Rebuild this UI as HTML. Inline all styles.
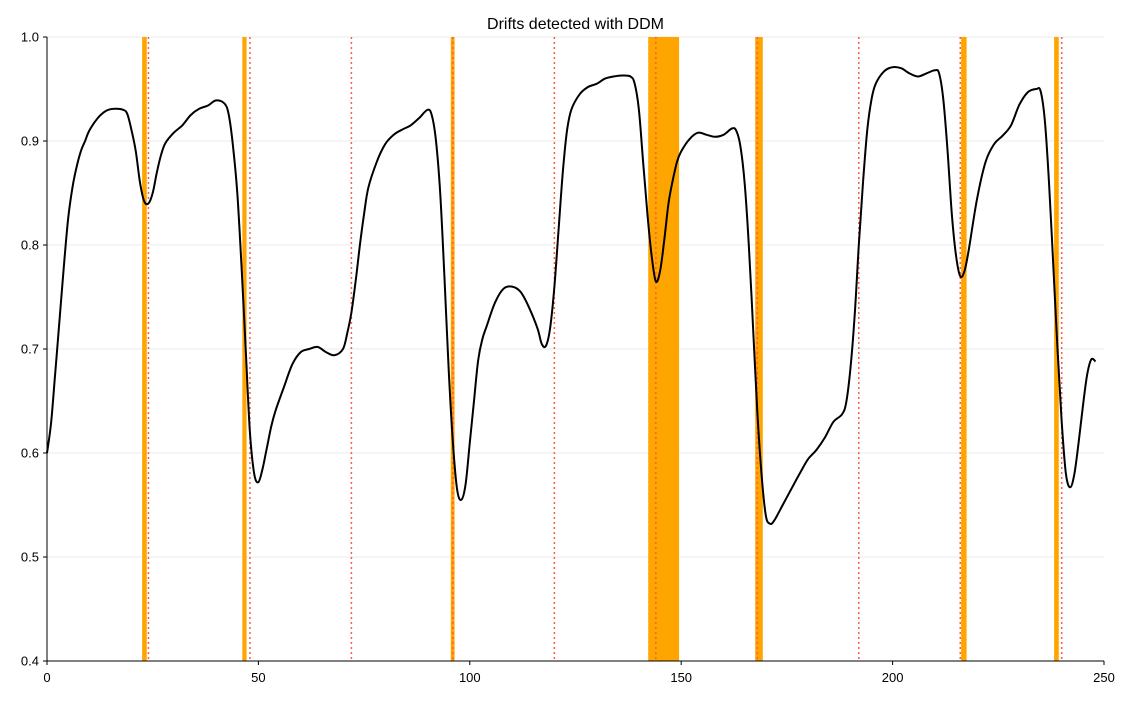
<!DOCTYPE html>
<html><head><meta charset="utf-8"><style>
body{margin:0;background:#fff;font-family:"Liberation Sans","DejaVu Sans",sans-serif}
</style></head><body>
<svg id="chart" width="1132" height="700" xmlns="http://www.w3.org/2000/svg" font-family="Liberation Sans, DejaVu Sans, sans-serif"></svg>
<script>
const xs=[0,1,2,3,4,5,6,7,8,9,10,12,14,16,18,19,20,21,22,23,24,25,26,27,28,30,32,34,36,38,40,42,43,44,45,46,47,48,49,50,51,52,53,54,56,58,60,62,64,66,68,70,71,72,73,74,75,76,78,80,82,84,86,88,90,91,92,93,94,95,96,97,98,99,100,101,102,103,104,106,108,110,112,114,116,117,118,119,120,121,122,123,124,126,128,130,132,134,136,138,139,140,141,142,143,144,145,146,147,148,149,150,152,154,156,158,160,162,163,164,165,166,167,168,169,170,171,172,174,176,178,180,182,184,186,188,189,190,191,192,193,194,195,196,198,200,202,204,206,208,210,211,212,213,214,215,216,217,218,220,222,224,226,228,230,232,234,235,236,237,238,239,240,241,242,243,244,245,246,247,248];
const ys=[0.60,0.63,0.68,0.73,0.78,0.825,0.855,0.875,0.89,0.90,0.91,0.922,0.929,0.931,0.93,0.926,0.91,0.89,0.86,0.842,0.84,0.85,0.87,0.887,0.898,0.908,0.915,0.925,0.931,0.934,0.939,0.936,0.925,0.895,0.85,0.78,0.70,0.62,0.58,0.572,0.585,0.605,0.625,0.64,0.663,0.685,0.697,0.700,0.702,0.697,0.694,0.70,0.715,0.735,0.765,0.80,0.83,0.855,0.88,0.897,0.906,0.911,0.915,0.922,0.93,0.925,0.90,0.85,0.77,0.68,0.61,0.565,0.555,0.57,0.61,0.65,0.69,0.71,0.722,0.745,0.758,0.76,0.755,0.74,0.72,0.705,0.703,0.72,0.76,0.815,0.87,0.91,0.93,0.945,0.952,0.955,0.96,0.962,0.963,0.962,0.955,0.93,0.88,0.83,0.79,0.765,0.775,0.805,0.84,0.862,0.88,0.89,0.902,0.908,0.906,0.904,0.906,0.912,0.91,0.895,0.86,0.80,0.72,0.64,0.58,0.54,0.532,0.535,0.55,0.565,0.58,0.594,0.603,0.615,0.63,0.637,0.648,0.68,0.73,0.80,0.86,0.91,0.94,0.955,0.967,0.971,0.970,0.965,0.962,0.965,0.968,0.965,0.94,0.89,0.83,0.79,0.77,0.775,0.795,0.845,0.88,0.897,0.905,0.915,0.935,0.947,0.95,0.948,0.92,0.86,0.78,0.70,0.63,0.58,0.567,0.58,0.61,0.645,0.675,0.69,0.688];
const driftLines=[24,48,72,96,120,144,168,192,216,240];
const bandStart=[22.5,46.2,95.5,142.2,167.5,216.2,238.2];
const bandEnd=[23.6,47.2,96.4,149.5,169.3,217.5,239.3];
const xTicks=[0,50,100,150,200,250];
const yTicks=[0.4,0.5,0.6,0.7,0.8,0.9,1.0];
const W=1132,H=700,L=47,R=1104,T=37,B=661;
const X=v=>L+(v-0)/250*(R-L), Y=v=>B-(v-0.4)/0.6*(B-T);
const svg=document.getElementById('chart');const NS='http://www.w3.org/2000/svg';
function mk(t,a,p){const e=document.createElementNS(NS,t);for(const k in a)e.setAttribute(k,a[k]);(p||svg).appendChild(e);return e;}
yTicks.forEach(v=>{const g=mk('line',{x1:L,x2:R,y1:Y(v),y2:Y(v),stroke:'#ebebeb','stroke-width':1});

});
bandStart.forEach((s,i)=>{const r=mk('rect',{x:X(s),y:T,width:X(bandEnd[i])-X(s),height:B-T,fill:'#ffa500'});

});
driftLines.forEach(v=>{const l=mk('line',{x1:X(v),x2:X(v),y1:T,y2:B,stroke:'#ff5a4a','stroke-width':1.5,'stroke-dasharray':'2,3'});

});
const P=xs.map((x,i)=>[X(x),Y(ys[i])]);
let d='M'+P[0][0].toFixed(1)+','+P[0][1].toFixed(1);
for(let i=0;i<P.length-1;i++){const p0=P[Math.max(0,i-1)],p1=P[i],p2=P[i+1],p3=P[Math.min(P.length-1,i+2)];
const c1=[p1[0]+(p2[0]-p0[0])/6,p1[1]+(p2[1]-p0[1])/6],c2=[p2[0]-(p3[0]-p1[0])/6,p2[1]-(p3[1]-p1[1])/6];
d+='C'+c1.map(v=>v.toFixed(1)).join(',')+' '+c2.map(v=>v.toFixed(1)).join(',')+' '+p2.map(v=>v.toFixed(1)).join(',');}
const p=mk('path',{d:d,fill:'none',stroke:'#000','stroke-width':2,'stroke-linejoin':'round'});


const ax=mk('line',{x1:L,x2:R,y1:B,y2:B,stroke:'#000','stroke-width':1});


const ay=mk('line',{x1:L,x2:L,y1:T,y2:B,stroke:'#000','stroke-width':1});


xTicks.forEach(v=>{mk('line',{x1:X(v),x2:X(v),y1:B,y2:B+4,stroke:'#000'});
const t=mk('text',{x:X(v),y:B+21,'text-anchor':'middle','font-size':13});t.textContent=v;

});
yTicks.forEach(v=>{mk('line',{x1:L-4,x2:L,y1:Y(v),y2:Y(v),stroke:'#000'});
const t=mk('text',{x:L-8,y:Y(v)+4.5,'text-anchor':'end','font-size':13});t.textContent=v.toFixed(1);

});
const ti=mk('text',{x:(L+R)/2,y:29,'text-anchor':'middle','font-size':16});ti.textContent='Drifts detected with DDM';


</script>
</body></html>
